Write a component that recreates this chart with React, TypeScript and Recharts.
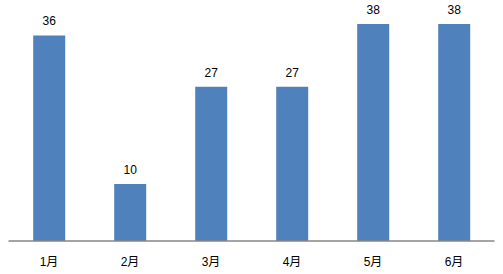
import React from "react";
import { BarChart, Bar, XAxis, YAxis, LabelList } from "recharts";

const months = ["1月", "2月", "3月", "4月", "5月", "6月"];
const values = [36, 10, 27, 27, 38, 38];

const data = months.map((m, i) => ({ month: m, value: values[i] }));

const font = "'Liberation Sans', 'Noto Sans CJK SC', sans-serif";

export default function App() {
  return (
    <div style={{ position: "absolute", left: 0, top: 0, width: 503, height: 274, background: "#fff" }}>
      <BarChart
        width={503}
        height={274}
        data={data}
        margin={{ top: 12.6, right: 8.5, bottom: 0, left: 8.5 }}
        barCategoryGap="30.5%"
      >
        <XAxis
          dataKey="month"
          height={33}
          tickLine={false}
          axisLine={{ stroke: "#868686", strokeWidth: 1.5 }}
          tickMargin={10}
          tick={{ fill: "#000", fontSize: 12, fontFamily: font }}
          interval={0}
        />
        <YAxis hide domain={[0, 40]} />
        <Bar dataKey="value" fill="#4F81BD" isAnimationActive={false}>
          <LabelList
            dataKey="value"
            position="top"
            offset={10}
            style={{ fill: "#000", fontSize: 12, fontFamily: font }}
          />
        </Bar>
      </BarChart>
    </div>
  );
}
